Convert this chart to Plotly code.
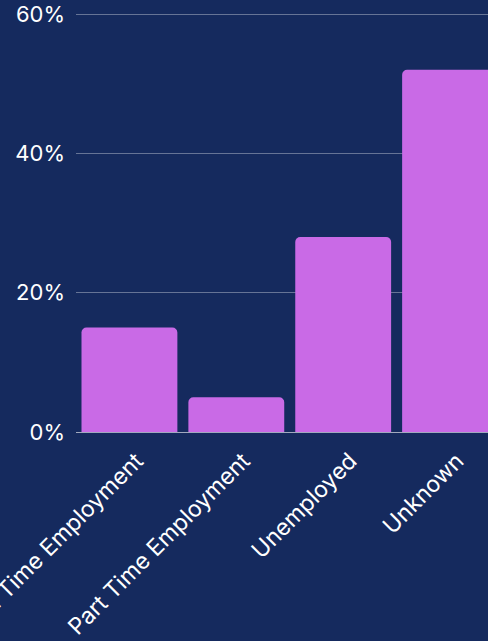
import plotly.graph_objects as go

categories = ["Full Time Employment", "Part Time Employment", "Unemployed", "Unknown"]
values = [15, 5, 28, 52]
y_ticks = [0, 20, 40, 60]
y_tick_labels = ["0%", "20%", "40%", "60%"]

BG = "#152a5e"
BAR = "#c96ae6"

fig = go.Figure(go.Bar(x=categories, y=values, marker=dict(color=BAR, line=dict(width=0)),
                       hoverinfo="skip"))

fig.update_layout(
    width=488, height=641,
    paper_bgcolor=BG, plot_bgcolor=BG,
    margin=dict(l=75.5, r=0, t=12, b=209, autoexpand=False),
    bargap=0.103,
    barcornerradius=5,
    font=dict(family="Inter, Lato, sans-serif", color="white"),
    showlegend=False,
)
fig.update_xaxes(
    range=[-0.5, 3.355], tickangle=-45, showgrid=False, automargin=False,
    tickfont=dict(size=23, color="white"), ticks="", showline=False,
    ticklabelstandoff=10, ticklabelshift=7,
)
fig.update_yaxes(
    range=[0, 60.3], tickvals=y_ticks, ticktext=y_tick_labels, automargin=False,
    tickfont=dict(size=22, color="white"),
    gridcolor="rgba(255,255,255,0.35)", gridwidth=1,
    zeroline=True, zerolinecolor="rgba(255,255,255,0.6)", zerolinewidth=1,
    ticks="", ticklabelstandoff=10,
)
fig.write_html(
    "out.html",
    config={"displayModeBar": False},
    post_script="document.body.style.margin='0';document.body.style.padding='0';"
                "document.body.style.background='#152a5e';document.body.style.overflow='hidden';",
)
